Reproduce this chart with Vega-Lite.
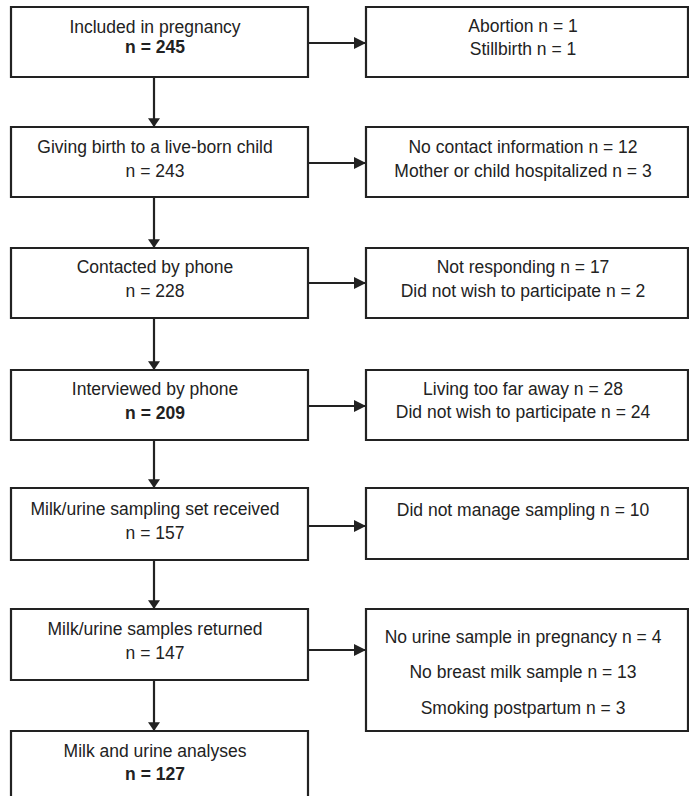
{
  "$schema": "https://vega.github.io/schema/vega-lite/v6.json",
  "width": 689,
  "height": 796,
  "autosize": {"type": "fit", "contains": "padding"},
  "padding": 0,
  "background": "white",
  "config": {"view": {"stroke": null}},
  "datasets": {
    "boxes": [
      {"x": 11, "x2": 308, "y": 7, "y2": 77},
      {"x": 11, "x2": 308, "y": 127, "y2": 197},
      {"x": 11, "x2": 308, "y": 248, "y2": 318},
      {"x": 11, "x2": 308, "y": 370, "y2": 440},
      {"x": 11, "x2": 308, "y": 488, "y2": 560},
      {"x": 11, "x2": 308, "y": 609, "y2": 680},
      {"x": 11, "x2": 308, "y": 731, "y2": 810},
      {"x": 366, "x2": 688, "y": 7, "y2": 77},
      {"x": 366, "x2": 688, "y": 127, "y2": 197},
      {"x": 366, "x2": 688, "y": 248, "y2": 318},
      {"x": 366, "x2": 688, "y": 370, "y2": 440},
      {"x": 366, "x2": 688, "y": 488, "y2": 559},
      {"x": 366, "x2": 688, "y": 609, "y2": 731}
    ],
    "arrows": [
      {"dir": "down", "x": 154, "x2": 154, "y": 77, "y2": 127},
      {"dir": "down", "x": 154, "x2": 154, "y": 197, "y2": 248},
      {"dir": "down", "x": 154, "x2": 154, "y": 318, "y2": 370},
      {"dir": "down", "x": 154, "x2": 154, "y": 440, "y2": 488},
      {"dir": "down", "x": 154, "x2": 154, "y": 560, "y2": 609},
      {"dir": "down", "x": 154, "x2": 154, "y": 680, "y2": 731},
      {"dir": "right", "x": 308, "x2": 366, "y": 43, "y2": 43},
      {"dir": "right", "x": 308, "x2": 366, "y": 163, "y2": 163},
      {"dir": "right", "x": 308, "x2": 366, "y": 283, "y2": 283},
      {"dir": "right", "x": 308, "x2": 366, "y": 406, "y2": 406},
      {"dir": "right", "x": 308, "x2": 366, "y": 526, "y2": 526},
      {"dir": "right", "x": 308, "x2": 366, "y": 650, "y2": 650}
    ],
    "labels": [
      {"x": 155, "y": 33, "text": "Included in pregnancy", "bold": false},
      {"x": 155, "y": 53, "text": "n = 245", "bold": true},
      {"x": 155, "y": 153, "text": "Giving birth to a live-born child", "bold": false},
      {"x": 155, "y": 177, "text": "n = 243", "bold": false},
      {"x": 155, "y": 273, "text": "Contacted by phone", "bold": false},
      {"x": 155, "y": 297, "text": "n = 228", "bold": false},
      {"x": 155, "y": 395, "text": "Interviewed by phone", "bold": false},
      {"x": 155, "y": 419, "text": "n = 209", "bold": true},
      {"x": 155, "y": 515, "text": "Milk/urine sampling set received", "bold": false},
      {"x": 155, "y": 539, "text": "n = 157", "bold": false},
      {"x": 155, "y": 635, "text": "Milk/urine samples returned", "bold": false},
      {"x": 155, "y": 659, "text": "n = 147", "bold": false},
      {"x": 155, "y": 757, "text": "Milk and urine analyses", "bold": false},
      {"x": 155, "y": 780, "text": "n = 127", "bold": true},
      {"x": 523, "y": 32, "text": "Abortion n = 1", "bold": false},
      {"x": 523, "y": 55, "text": "Stillbirth n = 1", "bold": false},
      {"x": 523, "y": 153, "text": "No contact information n = 12", "bold": false},
      {"x": 523, "y": 177, "text": "Mother or child hospitalized n = 3", "bold": false},
      {"x": 523, "y": 273, "text": "Not responding n = 17", "bold": false},
      {"x": 523, "y": 297, "text": "Did not wish to participate n = 2", "bold": false},
      {"x": 523, "y": 395, "text": "Living too far away n = 28", "bold": false},
      {"x": 523, "y": 418, "text": "Did not wish to participate n = 24", "bold": false},
      {"x": 523, "y": 516, "text": "Did not manage sampling n = 10", "bold": false},
      {"x": 523, "y": 643, "text": "No urine sample in pregnancy n = 4", "bold": false},
      {"x": 523, "y": 678, "text": "No breast milk sample n = 13", "bold": false},
      {"x": 523, "y": 714, "text": "Smoking postpartum n = 3", "bold": false}
    ]
  },
  "layer": [
    {
      "data": {"name": "boxes"},
      "mark": {"type": "rect", "fill": "white", "stroke": "#222222", "strokeWidth": 2.2, "clip": true},
      "encoding": {
        "x": {"field": "x", "type": "quantitative", "scale": {"domain": [0, 689], "nice": false, "zero": false}, "axis": null},
        "x2": {"field": "x2"},
        "y": {"field": "y", "type": "quantitative", "scale": {"domain": [0, 796], "nice": false, "zero": false, "reverse": true}, "axis": null},
        "y2": {"field": "y2"}
      }
    },
    {
      "data": {"name": "arrows"},
      "mark": {"type": "rule", "stroke": "#222222", "strokeWidth": 2.2},
      "encoding": {
        "x": {"field": "x", "type": "quantitative"},
        "x2": {"field": "x2"},
        "y": {"field": "y", "type": "quantitative"},
        "y2": {"field": "y2"}
      }
    },
    {
      "data": {"name": "arrows"},
      "transform": [{"filter": "datum.dir === 'down'"}],
      "mark": {"type": "point", "shape": "M-1,-1.45L1,-1.45L0,0Z", "size": 144, "filled": true, "fill": "#222222", "stroke": null, "opacity": 1},
      "encoding": {
        "x": {"field": "x2", "type": "quantitative"},
        "y": {"field": "y2", "type": "quantitative"}
      }
    },
    {
      "data": {"name": "arrows"},
      "transform": [{"filter": "datum.dir === 'right'"}],
      "mark": {"type": "point", "shape": "M-2,-1L0,0L-2,1Z", "size": 144, "filled": true, "fill": "#222222", "stroke": null, "opacity": 1},
      "encoding": {
        "x": {"field": "x2", "type": "quantitative"},
        "y": {"field": "y2", "type": "quantitative"}
      }
    },
    {
      "data": {"name": "labels"},
      "transform": [{"filter": "!datum.bold"}],
      "mark": {"type": "text", "font": "Liberation Sans", "fontSize": 17.5, "fill": "#222222", "align": "center", "baseline": "alphabetic"},
      "encoding": {
        "x": {"field": "x", "type": "quantitative"},
        "y": {"field": "y", "type": "quantitative"},
        "text": {"field": "text"}
      }
    },
    {
      "data": {"name": "labels"},
      "transform": [{"filter": "datum.bold"}],
      "mark": {"type": "text", "font": "Liberation Sans", "fontSize": 17.5, "fontWeight": "bold", "fill": "#222222", "align": "center", "baseline": "alphabetic"},
      "encoding": {
        "x": {"field": "x", "type": "quantitative"},
        "y": {"field": "y", "type": "quantitative"},
        "text": {"field": "text"}
      }
    }
  ]
}
